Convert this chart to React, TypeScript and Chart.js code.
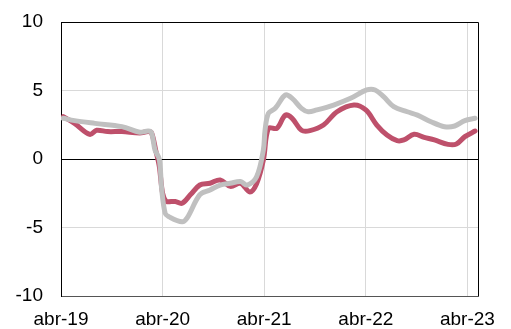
import React, { useEffect, useRef } from "react";
import { Chart, registerables } from "chart.js";

Chart.register(...registerables);

// x positions are months since abr-19
const tickMonths = [0, 12, 24, 36, 48];
const tickLabels = ["abr-19", "abr-20", "abr-21", "abr-22", "abr-23"];

const redMonths = [0.27, 1.6, 3.4, 4.2, 5.5, 7.2, 9.3, 10.3, 10.7, 11.2, 11.6, 12.0, 12.4, 12.7, 13.5, 14.3, 15.3, 16.4, 17.6, 18.8, 20.0, 21.2, 22.3, 23.1, 23.9, 24.5, 25.5, 26.5, 27.3, 28.4, 29.4, 31.0, 32.6, 34.6, 36.0, 37.3, 38.5, 39.7, 40.5, 41.7, 42.9, 44.1, 45.7, 46.7, 47.7, 48.9];
const redValues = [3.09, 2.6, 1.8, 2.1, 2.0, 2.0, 1.9, 2.0, 1.9, 0.6, -0.5, -2.5, -3.1, -3.12, -3.1, -3.23, -2.6, -1.9, -1.77, -1.53, -2.0, -1.77, -2.4, -1.8, -0.07, 2.24, 2.24, 3.2, 2.97, 2.1, 2.07, 2.48, 3.45, 3.94, 3.58, 2.48, 1.75, 1.34, 1.39, 1.8, 1.58, 1.39, 1.07, 1.09, 1.63, 2.04];

const grayMonths = [0.27, 1.6, 4.0, 7.2, 9.3, 10.3, 10.7, 11.1, 11.6, 11.9, 12.3, 12.7, 14.3, 14.9, 16.4, 17.6, 18.8, 20.0, 21.2, 22.0, 23.1, 23.9, 24.1, 24.5, 25.3, 26.5, 27.3, 28.4, 29.2, 30.2, 32.2, 34.2, 36.1, 37.1, 38.1, 39.3, 40.9, 42.1, 43.7, 45.3, 46.5, 47.7, 48.9];
const grayValues = [2.97, 2.8, 2.6, 2.36, 1.95, 2.04, 1.9, 0.66, 0, -2.26, -3.96, -4.2, -4.58, -4.3, -2.6, -2.26, -1.9, -1.77, -1.65, -1.9, -1.3, 0.66, 2.1, 3.34, 3.7, 4.67, 4.43, 3.7, 3.45, 3.58, 3.94, 4.43, 5.04, 5.04, 4.55, 3.82, 3.45, 3.2, 2.72, 2.36, 2.41, 2.8, 2.97];

const boxPlugin = {
  id: "box",
  afterDraw(chart: any) {
    const { ctx, chartArea } = chart;
    ctx.save();
    ctx.strokeStyle = "#000";
    ctx.lineWidth = 1;
    ctx.beginPath();
    ctx.moveTo(chartArea.left, chartArea.top + 0.5);
    ctx.lineTo(chartArea.right + 0.5, chartArea.top + 0.5);
    ctx.lineTo(chartArea.right + 0.5, chartArea.bottom);
    ctx.stroke();
    ctx.restore();
  },
};

export default function App() {
  const ref = useRef<HTMLCanvasElement>(null);
  useEffect(() => {
    const font = { family: "'Liberation Sans', Arial, sans-serif", size: 19 };
    const chart = new Chart(ref.current as HTMLCanvasElement, {
      type: "line",
      data: {
        datasets: [
          {
            label: "gray",
            data: grayMonths.map((m, i) => ({ x: m, y: grayValues[i] })),
            borderColor: "#c0c0c0",
            borderWidth: 5,
            tension: 0.35,
            pointRadius: 0,
            borderCapStyle: "round",
            borderJoinStyle: "round",
          },
          {
            label: "red",
            data: redMonths.map((m, i) => ({ x: m, y: redValues[i] })),
            borderColor: "#be506b",
            borderWidth: 5,
            tension: 0.35,
            pointRadius: 0,
            borderCapStyle: "round",
            borderJoinStyle: "round",
          },
        ],
      },
      options: {
        responsive: false,
        animation: false,
        layout: { padding: { top: 22, right: 33, left: 0, bottom: 0 } },
        plugins: { legend: { display: false }, tooltip: { enabled: false } },
        scales: {
          x: {
            type: "linear",
            min: 0,
            max: 49.25,
            afterBuildTicks: (axis: any) => {
              axis.ticks = tickMonths.map((v) => ({ value: v }));
            },
            afterFit: (axis: any) => {
              axis.height = 33;
              axis.paddingLeft = 0;
              axis.paddingRight = 0;
            },
            ticks: {
              font,
              color: "#000",
              padding: 12,
              maxRotation: 0,
              autoSkip: false,
              callback: (v: any) => {
                const i = tickMonths.indexOf(Number(v));
                return i >= 0 ? tickLabels[i] : "";
              },
            },
            grid: { color: "#d9d9d9", drawTicks: false, lineWidth: 1 },
            border: { color: "#555", width: 1 },
          },
          y: {
            min: -10,
            max: 10,
            afterFit: (axis: any) => {
              axis.width = 61;
              axis.paddingTop = 0;
              axis.paddingBottom = 0;
            },
            ticks: { stepSize: 5, font, color: "#000", padding: 18 },
            grid: {
              drawTicks: false,
              color: (c: any) => (c.tick && c.tick.value === 0 ? "#000" : "#d9d9d9"),
            },
            border: { color: "#000", width: 1 },
          },
        },
      },
      plugins: [boxPlugin],
    } as any);
    return () => chart.destroy();
  }, []);
  return (
    <div style={{ position: "absolute", left: 0, top: 0, width: 511, height: 329, background: "#fff" }}>
      <canvas ref={ref} width={511} height={329} />
    </div>
  );
}
